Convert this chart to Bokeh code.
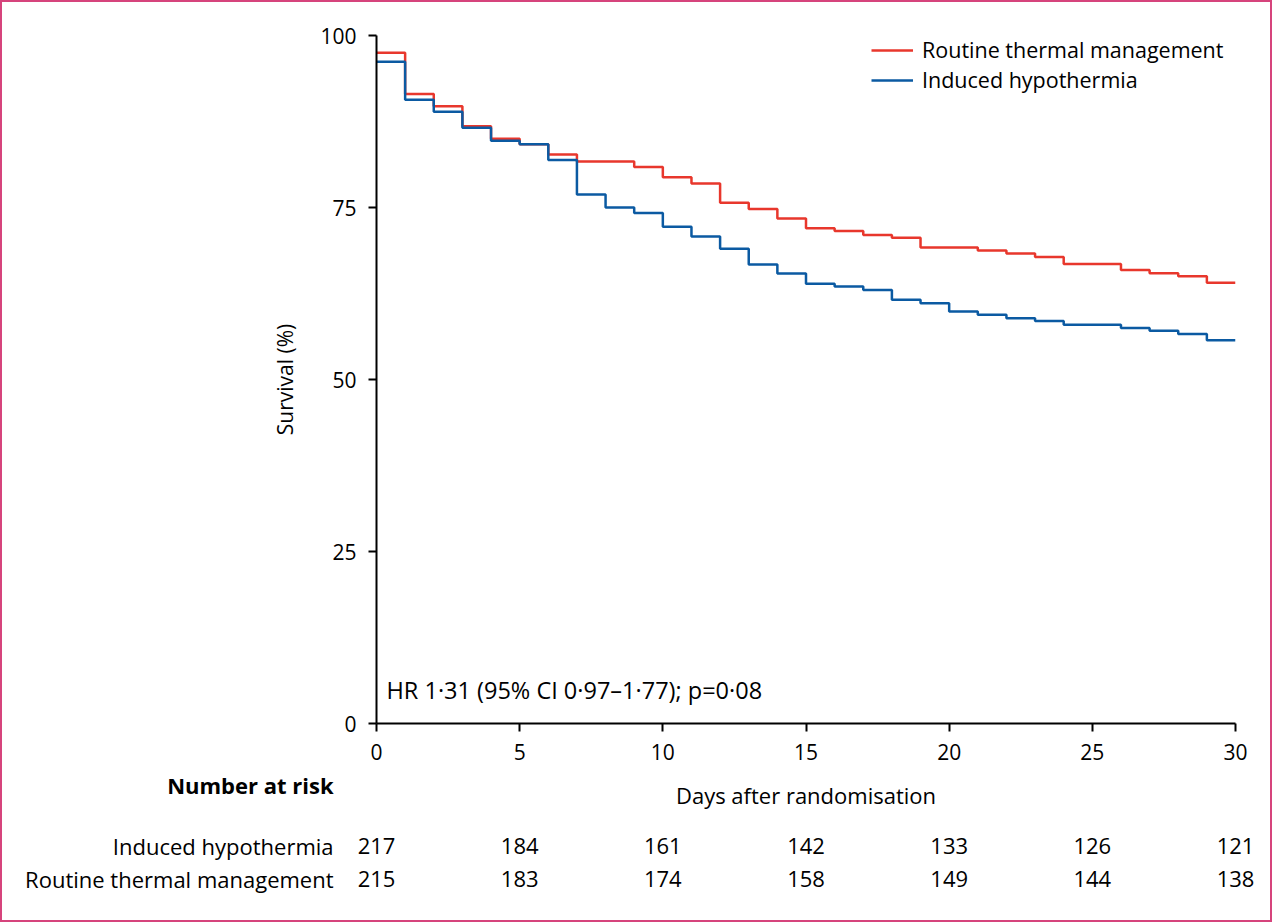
from bokeh.plotting import figure
from bokeh.models import Range1d, FixedTicker, Label, Legend, LegendItem
from bokeh.layouts import column
from bokeh.core.properties import value
from bokeh.embed import file_html
from bokeh.resources import INLINE

days = list(range(0, 31))
routine = [97.5, 91.5, 89.7, 86.8, 85.0, 84.2, 82.7, 81.7, 81.7, 80.9,
           79.4, 78.5, 75.7, 74.8, 73.4, 72.0, 71.6, 71.0, 70.6, 69.2,
           69.2, 68.75, 68.3, 67.8, 66.8, 66.8, 65.9, 65.45, 65.0, 64.05]
induced = [96.2, 90.65, 88.9, 86.6, 84.7, 84.2, 81.9, 76.9, 75.0, 74.2,
           72.2, 70.8, 69.0, 66.7, 65.4, 63.9, 63.5, 63.0, 61.6, 61.1,
           59.9, 59.4, 58.9, 58.5, 57.95, 57.95, 57.5, 57.1, 56.6, 55.7]
x_ticks = [0, 5, 10, 15, 20, 25, 30]
y_ticks = [0, 25, 50, 75, 100]
risk_days = [0, 5, 10, 15, 20, 25, 30]
risk_induced = [217, 184, 161, 142, 133, 126, 121]
risk_routine = [215, 183, 174, 158, 149, 144, 138]
groups = ["Induced hypothermia", "Routine thermal management"]

FONT = "Open Sans"
FS = "21px"
FS2 = "22px"
RED = "#e8372c"
BLUE = "#0b5aa2"

W = 1272
LEFT, RIGHT = 376, 37
TOP_H = 770

p = figure(width=W, height=TOP_H, output_backend="svg", toolbar_location=None,
           x_range=Range1d(0, 30), y_range=Range1d(0, 100),
           min_border_left=LEFT, min_border_right=RIGHT, min_border_top=35,
           min_border_bottom=47)
p.frame_align = False
p.grid.visible = False
p.outline_line_color = None
p.background_fill_color = "white"
p.border_fill_color = None

for ax in (p.xaxis[0], p.yaxis[0]):
    ax.axis_line_width = 2
    ax.axis_line_color = "black"
    ax.major_tick_line_width = 2
    ax.major_tick_out = 8
    ax.major_tick_in = 0
    ax.minor_tick_out = 0
    ax.minor_tick_in = 0
    ax.major_label_text_font = FONT
    ax.major_label_text_font_size = FS
    ax.major_label_text_color = "black"
    ax.axis_label_text_font = FONT
    ax.axis_label_text_font_size = FS
    ax.axis_label_text_font_style = "normal"
    ax.axis_label_text_color = "black"
    ax.major_label_standoff = 12

p.xaxis.ticker = FixedTicker(ticks=x_ticks)
p.yaxis.ticker = FixedTicker(ticks=y_ticks)
p.yaxis.axis_label = "Survival (%)"
p.yaxis.axis_label_standoff = 18

r_red = p.step(days, routine + [routine[-1]], mode="after", line_color=RED, line_width=2.5)
r_blue = p.step(days, induced + [induced[-1]], mode="after", line_color=BLUE, line_width=2.5)

legend = Legend(items=[LegendItem(label="Routine thermal management", renderers=[r_red]),
                       LegendItem(label="Induced hypothermia", renderers=[r_blue])],
                location=(495, 629), padding=0, margin=0, spacing=1,
                label_height=22, glyph_height=22, glyph_width=42, label_standoff=9,
                border_line_color=None, background_fill_alpha=0,
                label_text_font=FONT, label_text_font_size="21.5px", label_text_color="black")
p.add_layout(legend)

p.add_layout(Label(x=0.35, y=4.8, text="HR 1·31 (95% CI 0·97–1·77); p=0·08",
                   text_font=FONT, text_font_size="23.5px", text_baseline="middle",
                   text_align="left", text_color="black"))

# number-at-risk table, sharing the day scale of the main plot
px_per_day = (W - LEFT - RIGHT) / 30.0
p2 = figure(width=W, height=922 - TOP_H, output_backend="svg", toolbar_location=None,
            x_range=Range1d(-LEFT / px_per_day, (W - LEFT) / px_per_day),
            y_range=Range1d(922 - TOP_H, 0),
            min_border=0, min_border_left=0, min_border_right=0,
            min_border_top=0, min_border_bottom=0)
p2.frame_align = False
p2.axis.visible = False
p2.grid.visible = False
p2.outline_line_color = None
p2.background_fill_color = None
p2.border_fill_color = None

p2.text(x=[15], y=[24], text=["Days after randomisation"], text_font=value(FONT),
        text_font_size=FS2, text_align="center", text_baseline="middle", text_color="black")
p2.text(x=[-1.5], y=[14], text=["Number at risk"], text_font=value(FONT),
        text_font_size=FS2, text_font_style="bold", text_align="right",
        text_baseline="middle", text_color="black")
row_y = [75, 108]
p2.text(x=[-1.5, -1.5], y=row_y, text=groups, text_font=value(FONT),
        text_font_size=FS2, text_align="right", text_baseline="middle", text_color="black")
p2.text(x=risk_days, y=[row_y[0]] * len(risk_days), text=[str(v) for v in risk_induced],
        text_font=value(FONT), text_font_size=FS2, text_align="center",
        text_baseline="middle", text_color="black")
p2.text(x=risk_days, y=[row_y[1]] * len(risk_days), text=[str(v) for v in risk_routine],
        text_font=value(FONT), text_font_size=FS2, text_align="center",
        text_baseline="middle", text_color="black")

layout = column(p, p2, spacing=0)
layout.styles = {"box-shadow": "inset 0 0 0 2px #d6447c", "background-color": "white"}

open("out.html", "w").write(file_html(layout, INLINE))
